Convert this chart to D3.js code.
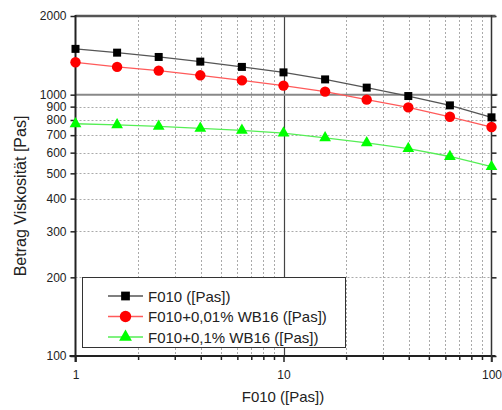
<!DOCTYPE html>
<html>
<head>
<meta charset="utf-8">
<script src="https://cdn.jsdelivr.net/npm/d3@7"></script>
<style>
  body { margin: 0; background: #fff; }
  text { font-family: "Liberation Sans", Arial, sans-serif; fill: #222; }
</style>
</head>
<body>
<div id="chart"></div>
<script>
// shear rate points (5 per decade)
const xValues = [1, 1.585, 2.512, 3.981, 6.31, 10, 15.85, 25.12, 39.81, 63.1, 100];
const f010 = [1497, 1448, 1394, 1338, 1277, 1217, 1144, 1064, 988, 910, 819];
const f010wb001 = [1330, 1277, 1236, 1186, 1134, 1083, 1027, 957, 894, 823, 752];
const f010wb01 = [774, 767, 756, 743, 730, 713, 684, 654, 622, 580, 530];

const seriesNames = ["F010 ([Pas])", "F010+0,01% WB16 ([Pas])", "F010+0,1% WB16 ([Pas])"];
const yTicks = [100, 200, 300, 400, 500, 600, 700, 800, 900, 1000, 2000];
const xMinor = [2, 3, 4, 5, 6, 7, 8, 9, 20, 30, 40, 50, 60, 70, 80, 90];
const xMajor = [1, 10, 100];

const width = 502;
const height = 410;
const pLeft = 75.5, pRight = 491.5, pTop = 16, pBottom = 356;

const svg = d3.select("#chart").append("svg")
  .attr("width", width)
  .attr("height", height);

const x = d3.scaleLog().domain([1, 100]).range([pLeft, pRight]);
const y = d3.scaleLog().domain([100, 2000]).range([pBottom, pTop]);

// dotted grid
svg.append("g").selectAll("line").data(xMinor).enter().append("line")
  .attr("x1", (d) => Math.round(x(d)) + 0.5)
  .attr("x2", (d) => Math.round(x(d)) + 0.5)
  .attr("y1", pTop)
  .attr("y2", pBottom)
  .style("stroke", "#aaa")
  .style("stroke-dasharray", "2,2");

svg.append("g").selectAll("line").data(yTicks.filter((d) => d !== 100 && d < 1000)).enter().append("line")
  .attr("x1", pLeft)
  .attr("x2", pRight)
  .attr("y1", (d) => Math.round(y(d)) + 0.5)
  .attr("y2", (d) => Math.round(y(d)) + 0.5)
  .style("stroke", "#aaa")
  .style("stroke-dasharray", "2,2");

// solid major grid lines
svg.append("line")
  .attr("x1", Math.round(x(10)) + 0.5).attr("x2", Math.round(x(10)) + 0.5)
  .attr("y1", pTop).attr("y2", pBottom)
  .style("stroke", "#444").style("stroke-width", 1.2);

svg.append("line")
  .attr("x1", pLeft).attr("x2", pRight + 6)
  .attr("y1", y(1000)).attr("y2", y(1000))
  .style("stroke", "#888").style("stroke-width", 2);

// axes
const xAxisMajor = svg.append("g")
  .attr("transform", `translate(0,${pBottom})`)
  .call(d3.axisBottom(x).tickValues(xMajor).tickFormat(d3.format("d")).tickSize(6).tickPadding(8));
const xAxisMinor = svg.append("g")
  .attr("transform", `translate(0,${pBottom})`)
  .call(d3.axisBottom(x).tickValues(xMinor).tickFormat("").tickSize(4));

const yAxis = svg.append("g")
  .attr("transform", `translate(${pLeft},0)`)
  .call(d3.axisLeft(y).tickValues(yTicks).tickFormat(d3.format("d")).tickSize(5).tickPadding(4));

const yAxisRight = svg.append("g")
  .attr("transform", `translate(${pRight},0)`)
  .call(d3.axisRight(y).tickValues(yTicks).tickFormat("").tickSize(5));

[xAxisMajor, xAxisMinor, yAxis, yAxisRight].forEach((a) => {
  a.select(".domain").remove();
  a.selectAll("line").style("stroke", "#222").style("stroke-width", 1.5);
  a.selectAll("text").style("font-size", "12px").style("fill", "#222")
    .style("font-family", "'Liberation Sans', Arial, sans-serif");
});

// frame
svg.append("line").attr("x1", pLeft).attr("x2", pRight + 4).attr("y1", pTop).attr("y2", pTop)
  .style("stroke", "#555").style("stroke-width", 2.5);
svg.append("line").attr("x1", pLeft).attr("x2", pLeft).attr("y1", pTop - 1).attr("y2", pBottom + 6)
  .style("stroke", "#222").style("stroke-width", 2);
svg.append("line").attr("x1", pLeft - 6).attr("x2", pRight + 4).attr("y1", pBottom).attr("y2", pBottom)
  .style("stroke", "#222").style("stroke-width", 2);
svg.append("line").attr("x1", pRight).attr("x2", pRight).attr("y1", pTop - 1).attr("y2", pBottom + 6)
  .style("stroke", "#333").style("stroke-width", 1.5);

// series
const series = [
  { name: seriesNames[0], values: f010, line: "#555", fill: "#000", symbol: d3.symbolSquare, size: 64 },
  { name: seriesNames[1], values: f010wb001, line: "#ff5a5a", fill: "#ff0000", symbol: d3.symbolCircle, size: 85 },
  { name: seriesNames[2], values: f010wb01, line: "#55ee55", fill: "#00ff00", symbol: d3.symbolTriangle, size: 60 }
];

const line = d3.line()
  .x((d) => x(d[0]))
  .y((d) => y(d[1]));

series.forEach((s) => {
  const pts = xValues.map((xv, i) => [xv, s.values[i]]);
  svg.append("path")
    .datum(pts)
    .attr("d", line)
    .style("fill", "none")
    .style("stroke", s.line)
    .style("stroke-width", 1.3);
  svg.append("g").selectAll("path").data(pts).enter().append("path")
    .attr("transform", (d) => `translate(${x(d[0])},${y(d[1])})`)
    .attr("d", d3.symbol().type(s.symbol).size(s.size))
    .style("fill", s.fill);
});

// legend
const legend = svg.append("g");
legend.append("rect")
  .attr("x", 82.5).attr("y", 277.5)
  .attr("width", 263).attr("height", 70)
  .style("fill", "#fff")
  .style("stroke", "#333")
  .style("stroke-width", 1);

series.forEach((s, i) => {
  const ly = 296 + i * 20.5;
  legend.append("line")
    .attr("x1", 108).attr("x2", 143)
    .attr("y1", ly).attr("y2", ly)
    .style("stroke", s.line).style("stroke-width", 1.3);
  legend.append("path")
    .attr("transform", `translate(125.5,${ly})`)
    .attr("d", d3.symbol().type(s.symbol).size(s.size * 1.2))
    .style("fill", s.fill);
  legend.append("text")
    .attr("x", 148).attr("y", ly + 5.5)
    .style("font-size", "15px")
    .text(s.name);
});

// axis titles
svg.append("text")
  .attr("x", 283).attr("y", 402)
  .attr("text-anchor", "middle")
  .style("font-size", "15px")
  .text("F010 ([Pas])");

svg.append("text")
  .attr("transform", "translate(26,196) rotate(-90)")
  .attr("text-anchor", "middle")
  .style("font-size", "16px")
  .text("Betrag Viskosität [Pas]");
</script>
</body>
</html>
